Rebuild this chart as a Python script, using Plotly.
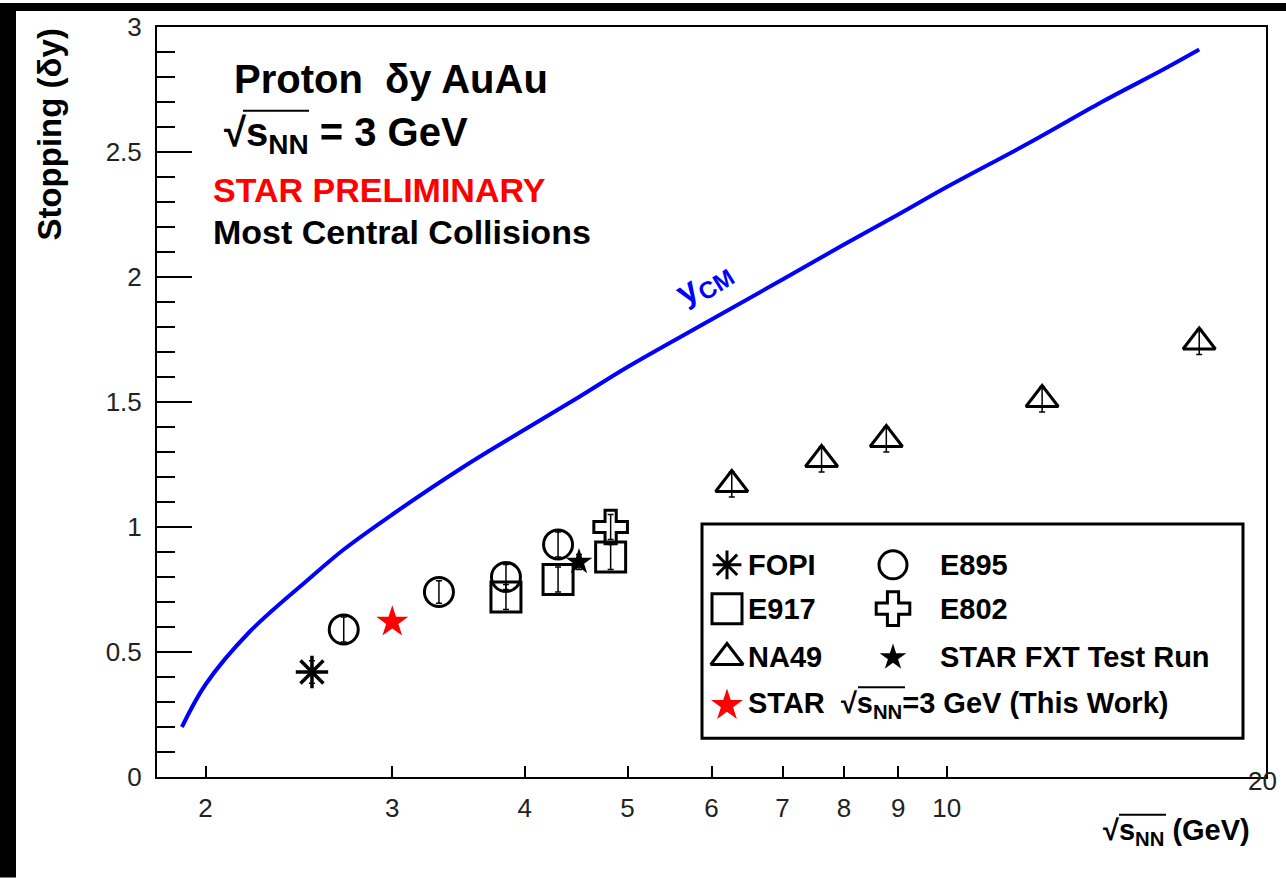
import math
import plotly.graph_objects as go

# ---- data ----------------------------------------------------------------
# centre-of-mass rapidity curve (y_CM vs sqrt(s_NN))
ycm_x = [1.90, 2.00, 2.20, 2.50, 2.70, 3.00, 3.50, 4.00, 4.50, 5.00, 6.00,
         7.00, 8.00, 9.00, 10.0, 12.0, 14.0, 16.0, 17.3]
ycm_y = [0.20, 0.37, 0.58, 0.79, 0.91, 1.05, 1.24, 1.39, 1.52, 1.64, 1.83,
         1.99, 2.13, 2.25, 2.36, 2.54, 2.70, 2.83, 2.91]

fopi_x = [2.52]
fopi_y = [0.42]
fopi_err = [0.045]

e895_x = [2.70, 3.32, 3.84, 4.30]
e895_y = [0.59, 0.74, 0.80, 0.93]
e895_err = [0.05, 0.045, 0.05, 0.05]

e917_x = [3.84, 4.30, 4.82]
e917_y = [0.72, 0.79, 0.88]
e917_err = [0.05, 0.05, 0.05]

e802_x = [4.82]
e802_y = [1.00]
e802_err = [0.05]

na49_x = [6.27, 7.62, 8.77, 12.3, 17.3]
na49_y = [1.17, 1.27, 1.35, 1.51, 1.74]
na49_err = [0.05, 0.05, 0.05, 0.05, 0.05]

fxt_x = [4.50]
fxt_y = [0.86]
fxt_err = [0.03]

star_x = [3.00]
star_y = [0.62]
star_err = [0.02]

x_tick_vals = [2, 3, 4, 5, 6, 7, 8, 9, 10]
x_tick_text = ["2", "3", "4", "5", "6", "7", "8", "9", "10"]
y_tick_vals = [0, 0.5, 1, 1.5, 2, 2.5, 3]
y_tick_text = ["0", "0.5", "1", "1.5", "2", "2.5", "3"]

FONT = "Liberation Sans, Arial, Helvetica, sans-serif"
SQRT_SNN = "√s<sub>NN</sub>"

# ---- figure --------------------------------------------------------------
fig = go.Figure()

fig.add_trace(go.Scatter(x=ycm_x, y=ycm_y, mode="lines",
                         line=dict(color="#0000ff", width=4, shape="spline"),
                         showlegend=False, hoverinfo="skip"))


def add_points(xs, ys, errs, symbol, size, color="black", lw=3):
    fig.add_trace(go.Scatter(
        x=xs, y=ys, mode="markers",
        error_y=dict(type="data", array=errs, visible=True,
                     color="black", thickness=1.5, width=3),
        marker=dict(symbol=symbol, size=size, color=color,
                    line=dict(color=color, width=lw)),
        showlegend=False, cliponaxis=False))


add_points(fopi_x, fopi_y, fopi_err, "asterisk-open", 27, lw=3.5)
add_points(e895_x, e895_y, e895_err, "circle-open", 29)
add_points(e917_x, e917_y, e917_err, "square-open", 30)
add_points(e802_x, e802_y, e802_err, "cross-open", 28)
add_points(na49_x, na49_y, na49_err, "triangle-up-open", 28)
add_points(fxt_x, fxt_y, fxt_err, "star", 20, lw=0)
add_points(star_x, star_y, star_err, "star", 24, color="#ff0000", lw=0)

# ---- hand-built legend (two columns inside a framed box) ----------------
W, H, ML, MT, MR, MB = 1286, 878, 157, 24, 20, 101
PW, PH = W - ML - MR, H - MT - MB


def px_x(p):
    return (p - ML) / PW


def px_y(p):
    return (H - MB - p) / PH


legend_rows = [564, 608, 657, 705]
legend_cols = [727, 893]
legend_entries = [
    # (symbol, size, color, col, row, label, label_px)
    ("asterisk-open", 24, "black", 0, 0, "<b>FOPI</b>", 746),
    ("circle-open", 28, "black", 1, 0, "<b>E895</b>", 938),
    ("square-open", 30, "black", 0, 1, "<b>E917</b>", 746),
    ("cross-open", 28, "black", 1, 1, "<b>E802</b>", 938),
    ("triangle-up-open", 28, "black", 0, 2, "<b>NA49</b>", 746),
    ("star", 20, "black", 1, 2, "<b>STAR FXT Test Run</b>", 938),
    ("star", 24, "#ff0000", 0, 3,
     "<b>STAR  " + SQRT_SNN + "=3 GeV (This Work)</b>", 746),
]
for sym, size, col, c, r, label, lx in legend_entries:
    fig.add_trace(go.Scatter(
        x=[px_x(legend_cols[c])], y=[px_y(legend_rows[r])], mode="markers",
        xaxis="x2", yaxis="y2",
        marker=dict(symbol=sym, size=size, color=col,
                    line=dict(color=col, width=0 if sym == "star" else 3)),
        showlegend=False, hoverinfo="skip", cliponaxis=False))
    fig.add_annotation(xref="paper", yref="paper", x=px_x(lx),
                       y=px_y(legend_rows[r]), text=label, showarrow=False,
                       xanchor="left", yanchor="middle",
                       font=dict(family=FONT, size=29, color="black"))

# radical bars over s_NN: (x0, x1, y) in pixels
radical_bars = [(243, 309, 108), (858, 905, 687), (1119, 1166, 815)]

shapes = [
    dict(type="rect", xref="paper", yref="paper", layer="below",
         x0=px_x(702), x1=px_x(1243), y0=px_y(738), y1=px_y(523),
         line=dict(color="black", width=3), fillcolor="white"),
    # dark strips along the left and top edges of the canvas
    dict(type="rect", xref="paper", yref="paper", layer="above",
         x0=px_x(0), x1=px_x(16), y0=px_y(H), y1=px_y(0),
         line=dict(width=0), fillcolor="black"),
    dict(type="rect", xref="paper", yref="paper", layer="above",
         x0=px_x(0), x1=px_x(W), y0=px_y(8), y1=px_y(0),
         line=dict(width=0), fillcolor="black"),
]
for x0, x1, y in radical_bars:
    shapes.append(dict(type="line", xref="paper", yref="paper",
                       x0=px_x(x0), x1=px_x(x1), y0=px_y(y), y1=px_y(y),
                       line=dict(color="black", width=2)))

# ---- text labels ---------------------------------------------------------
texts = [
    ("<b>Proton  δy AuAu</b>", 232, 76, 40, "black"),
    ("<b>" + SQRT_SNN + " = 3 GeV</b>", 222, 132, 40, "black"),
    ("<b>STAR PRELIMINARY</b>", 211, 188, 34, "#ff0000"),
    ("<b>Most Central Collisions</b>", 211, 230, 34, "black"),
]
for t, x, y, s, c in texts:
    fig.add_annotation(xref="paper", yref="paper", x=px_x(x), y=px_y(y),
                       text=t, showarrow=False, xanchor="left",
                       yanchor="middle", font=dict(family=FONT, size=s, color=c))

fig.add_annotation(xref="paper", yref="paper", x=px_x(704), y=px_y(281),
                   text="<b>y<sub>CM</sub></b>", showarrow=False, textangle=-32,
                   font=dict(family=FONT, size=34, color="#0000ff"))

fig.add_annotation(xref="paper", yref="paper", x=px_x(1252), y=px_y(832),
                   text="<b>" + SQRT_SNN + " (GeV)</b>", showarrow=False,
                   xanchor="right", yanchor="middle",
                   font=dict(family=FONT, size=29, color="black"))
fig.add_annotation(xref="paper", yref="paper", x=px_x(1262), y=px_y(781),
                   text="20", showarrow=False, xanchor="center",
                   yanchor="middle", font=dict(family=FONT, size=26, color="#222"))
fig.add_annotation(xref="paper", yref="paper", x=px_x(50), y=px_y(132),
                   text="<b>Stopping (δy)</b>", showarrow=False, textangle=-90,
                   xanchor="center", yanchor="middle",
                   font=dict(family=FONT, size=33, color="black"))

xrange = [math.log10(1.8), math.log10(20)]
fig.update_layout(
    width=W, height=H, autosize=False,
    margin=dict(l=ML, r=MR, t=MT, b=MB, pad=0),
    paper_bgcolor="white", plot_bgcolor="white",
    showlegend=False, shapes=shapes,
    xaxis=dict(type="log", range=xrange, tickvals=x_tick_vals,
               ticktext=x_tick_text, ticks="inside", ticklen=11,
               tickwidth=1.5, tickcolor="black", showline=True,
               linewidth=2, linecolor="black", mirror=True, showgrid=False,
               zeroline=False, ticklabelstandoff=7,
               tickfont=dict(family=FONT, size=26, color="#222")),
    yaxis=dict(range=[0, 3], tickvals=y_tick_vals, ticktext=y_tick_text,
               ticks="inside", ticklen=35, tickwidth=1.5, tickcolor="black",
               minor=dict(dtick=0.1, ticks="inside", ticklen=18,
                          tickwidth=1.5, tickcolor="black"),
               showline=True, linewidth=2, linecolor="black", mirror=True,
               showgrid=False, zeroline=False, ticklabelstandoff=8,
               tickfont=dict(family=FONT, size=26, color="#222")),
    xaxis2=dict(overlaying="x", range=[0, 1], visible=False),
    yaxis2=dict(overlaying="y", range=[0, 1], visible=False),
    xaxis3=dict(overlaying="x", type="log", range=xrange, tickvals=[10],
                ticks="inside", ticklen=22, tickwidth=1.5, tickcolor="black",
                showticklabels=False, showline=False, showgrid=False,
                zeroline=False, anchor="y", side="bottom"),
)

fig.write_html("out.html")
